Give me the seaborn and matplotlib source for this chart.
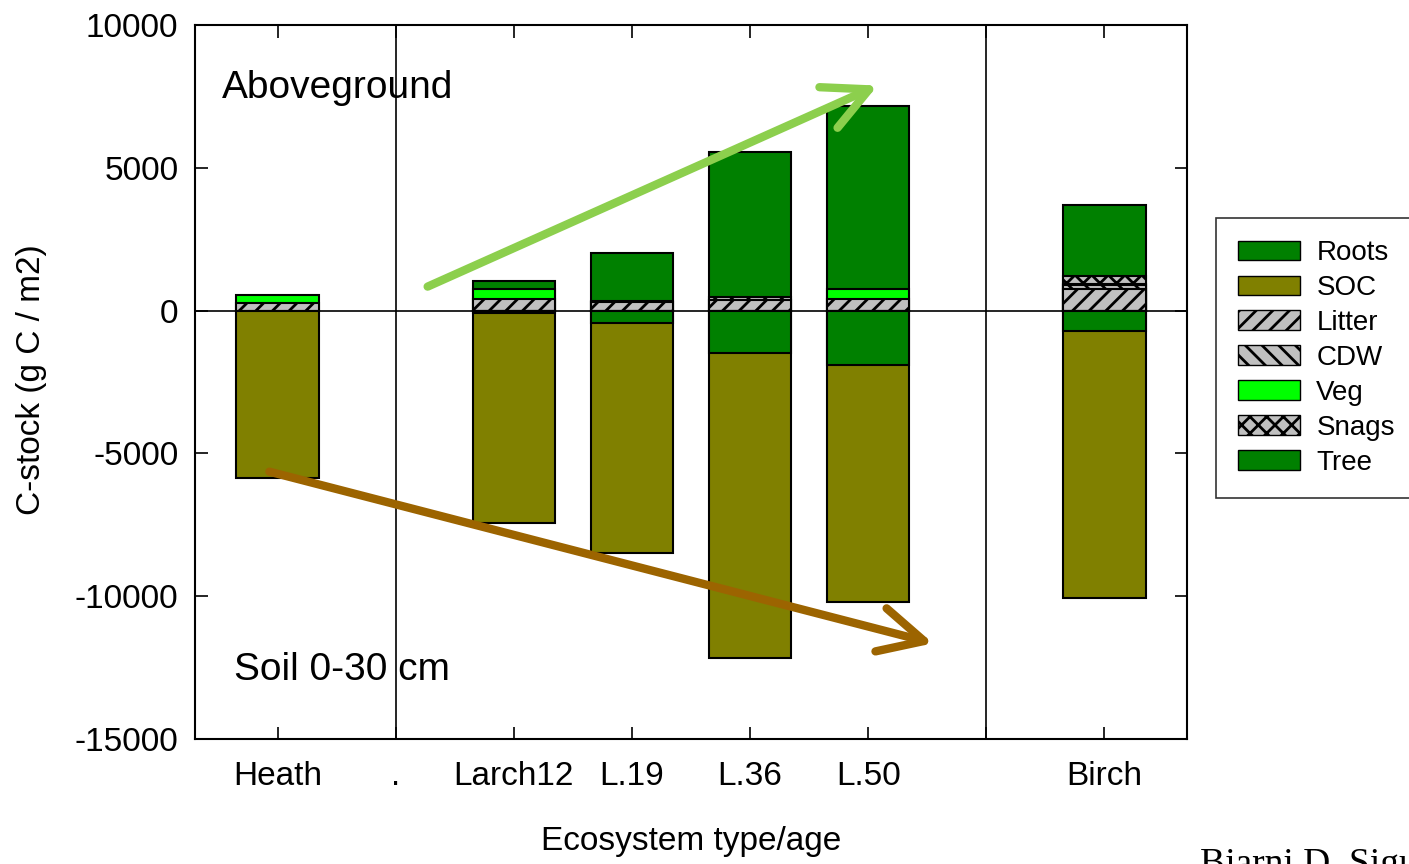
import numpy as np
import pandas as pd
import matplotlib
matplotlib.use('Agg')
import matplotlib.pyplot as plt
from matplotlib.patches import Patch
import seaborn as sns

sns.set_theme(style="white")
plt.rcParams['font.family'] = ['Liberation Sans', 'DejaVu Sans']
plt.rcParams['hatch.linewidth'] = 2.0
plt.rcParams['text.color'] = 'black'
plt.rcParams['axes.labelcolor'] = 'black'

# categories (the "." and blank slots are just spacers on the axis)
order = ["Heath", ".", "Larch12", "L.19", "L.36", "L.50", " ", "Birch"]
sites = ["Heath", "Larch12", "L.19", "L.36", "L.50", "Birch"]

# aboveground pools (g C / m2), stacked upward from zero
litter = [280, 420, 300, 370, 420, 760]
cdw = [0, 0, 50, 120, 0, 130]
veg = [270, 350, 0, 0, 330, 40]
snags = [0, 0, 0, 0, 0, 270]
tree = [0, 260, 1650, 5060, 6400, 2500]
# belowground pools, stacked downward from zero
roots = [0, 100, 450, 1500, 1900, 700]
soc = [5850, 7350, 8050, 10650, 8300, 9350]

df = pd.DataFrame({"site": sites, "Litter": litter, "CDW": cdw, "Veg": veg,
                   "Snags": snags, "Tree": tree, "Roots": roots, "SOC": soc})

GREEN = "#008000"
OLIVE = "#808000"
LIME = "#00ff00"
GREY = "#c0c0c0"

up = ["Litter", "CDW", "Veg", "Snags", "Tree"]
up_style = {"Litter": (GREY, "//"), "CDW": (GREY, "\\\\"), "Veg": (LIME, None),
            "Snags": (GREY, "xx"), "Tree": (GREEN, None)}
cum_up = df[up].cumsum(axis=1)
df["neg_roots"] = -df["Roots"]
df["neg_soc"] = -(df["Roots"] + df["SOC"])

fig = plt.figure(figsize=(14.09, 8.64), dpi=100)
ax = fig.add_axes([195 / 1409, 1 - 739 / 864, 992 / 1409, 714 / 864])

bar_kw = dict(order=order, width=0.7, edgecolor="black", linewidth=1.5,
              errorbar=None, ax=ax, zorder=3)

# draw cumulative heights top layer first so lower layers sit on top
for comp in reversed(up):
    col, hatch = up_style[comp]
    d = pd.DataFrame({"site": df["site"], "v": cum_up[comp]})
    d = d[df[comp] > 0] if comp != "Litter" else d
    sns.barplot(data=d, x="site", y="v", color=col, saturation=1, hatch=hatch, **bar_kw)

sns.barplot(data=df, x="site", y="neg_soc", color=OLIVE, saturation=1, **bar_kw)
d = df[df["Roots"] > 0]
sns.barplot(data=d, x="site", y="neg_roots", color=GREEN, saturation=1, **bar_kw)

ax.set_xlim(-0.7, 7.7)
ax.set_ylim(-15000, 10000)
ax.set_yticks([-15000, -10000, -5000, 0, 5000, 10000])
ax.set_yticklabels(["-15000", "-10000", "-5000", "0", "5000", "10000"])
ax.set_xticks(range(len(order)))
ax.set_xticklabels(order)

ax.axhline(0, color="black", lw=1.2, zorder=2)
for xv in [1, 6]:
    ax.axvline(xv, color="black", lw=1.2, zorder=2)

for s in ax.spines.values():
    s.set_color("black")
    s.set_linewidth(1.5)
ax.tick_params(axis="both", which="both", direction="in", length=9, width=1.2,
               top=True, right=True, bottom=True, left=True, colors="black",
               labelsize=24)
ax.tick_params(axis="x", pad=16)
ax.tick_params(axis="y", pad=12)

ax.set_xlabel("Ecosystem type/age", fontsize=24, color="black")
ax.set_ylabel("C-stock (g C / m2)", fontsize=24, color="black")
ax.xaxis.set_label_coords(0.5, -0.122)
ax.yaxis.set_label_coords(-0.149, 0.503)

ax.text(-0.475, 7810, "Aboveground", fontsize=28, va="center", ha="left",
        color="black", zorder=5)
ax.text(-0.373, -12570, "Soil 0-30 cm", fontsize=28, va="center", ha="left",
        color="black", zorder=5)

arrow_style = "->,head_length=0.8,head_width=0.4"
ax.annotate("", xy=(5.08, 7880), xytext=(1.27, 840),
            arrowprops=dict(arrowstyle=arrow_style, color="#8ccf4d", lw=6,
                            mutation_scale=40, shrinkA=0, shrinkB=0,
                            capstyle="round", joinstyle="round"), zorder=6)
ax.annotate("", xy=(5.55, -11650), xytext=(-0.07, -5640),
            arrowprops=dict(arrowstyle=arrow_style, color="#9c6400", lw=6,
                            mutation_scale=40, shrinkA=0, shrinkB=0,
                            capstyle="round", joinstyle="round"), zorder=6)

handles = [
    Patch(facecolor=GREEN, edgecolor="black", label="Roots"),
    Patch(facecolor=OLIVE, edgecolor="black", label="SOC"),
    Patch(facecolor=GREY, edgecolor="black", hatch="//", label="Litter"),
    Patch(facecolor=GREY, edgecolor="black", hatch="\\\\", label="CDW"),
    Patch(facecolor=LIME, edgecolor="black", label="Veg"),
    Patch(facecolor=GREY, edgecolor="black", hatch="xx", label="Snags"),
    Patch(facecolor=GREEN, edgecolor="black", label="Tree"),
]
leg = fig.legend(handles=handles, loc="upper left",
                 bbox_to_anchor=(1216 / 1409, 1 - 218 / 864), fontsize=20,
                 frameon=True, fancybox=False, borderpad=0.8, borderaxespad=0,
                 handlelength=2.23, handleheight=0.72, handletextpad=0.58,
                 labelspacing=0.32)
leg.get_frame().set_edgecolor("black")
leg.get_frame().set_linewidth(1.2)

# source credit, cut off by the right/bottom edge as in the original slide
fig.text(1200 / 1409, 1 - 847 / 864, "Bjarni D. Sigurdsson", va="top", ha="left",
         fontsize=27, family=["Liberation Serif"])

fig.savefig("out.png", dpi=100, facecolor="white")
